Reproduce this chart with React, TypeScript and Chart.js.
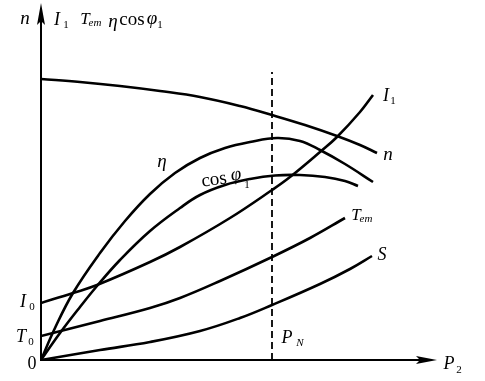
import React, { useEffect, useRef } from "react";
import { Chart, registerables } from "chart.js";

Chart.register(...registerables);

// Output power P2 (horizontal, arbitrary units) and the characteristic values (arbitrary units)
const speedN = [[0, 281], [39, 278], [79, 274], [119, 269], [159, 263], [199, 254], [231, 245], [264, 235], [296, 224], [319, 215], [336, 207]];
const currentI1 = [[0, 57], [32, 67], [56, 75], [109, 98], [139, 113], [189, 142], [231, 170], [249, 183], [279, 208], [296, 223], [319, 248], [332, 265]];
const efficiency = [[0, 0], [14, 32], [32, 67], [59, 107], [84, 139], [109, 166], [134, 187], [159, 202], [184, 212], [209, 218], [236, 222], [259, 219], [279, 210], [304, 196], [332, 178]];
const powerFactor = [[0, 0], [19, 27], [39, 53], [56, 74], [79, 100], [109, 129], [139, 152], [159, 165], [184, 175], [209, 181], [234, 184.5], [259, 185], [284, 183], [304, 179], [317, 174]];
const torqueTem = [[0, 24], [59, 39], [109, 52], [139, 62], [179, 79], [231, 103], [269, 122], [304, 142]];
const slipS = [[0, 0], [59, 10], [109, 18], [159, 29], [199, 42], [231, 55], [279, 76], [309, 91], [331, 104]];
const ratedPN = [[231, 0], [231, 288]];

const X_MAX = 396;
const Y_MAX = 357;

const FONT = '"Liberation Serif", "DejaVu Serif", serif';

type Lbl = { t: string; x: number; y: number; size: number; italic?: boolean; rot?: number };
// label positions in data units
const labels: Lbl[] = [
  { t: "n", x: -16, y: 341, size: 19, italic: true },
  { t: "I", x: 16, y: 340, size: 18, italic: true },
  { t: "1", x: 25, y: 335, size: 11 },
  { t: "T", x: 44, y: 340, size: 17, italic: true },
  { t: "em", x: 54, y: 337, size: 11, italic: true },
  { t: "η", x: 72, y: 338, size: 19, italic: true },
  { t: "cos", x: 91, y: 340, size: 19 },
  { t: "φ", x: 111, y: 341, size: 19, italic: true },
  { t: "1", x: 119, y: 335, size: 11 },
  { t: "I", x: -18, y: 58, size: 18, italic: true },
  { t: "0", x: -9, y: 53, size: 11 },
  { t: "T", x: -20, y: 23, size: 18, italic: true },
  { t: "0", x: -10, y: 18, size: 11 },
  { t: "0", x: -9, y: -4, size: 18 },
  { t: "P", x: 246, y: 22, size: 18, italic: true },
  { t: "N", x: 259, y: 17, size: 11, italic: true },
  { t: "P", x: 408, y: -4, size: 18, italic: true },
  { t: "2", x: 418, y: -10, size: 11 },
  { t: "η", x: 121, y: 198, size: 19, italic: true },
  { t: "cos", x: 173, y: 180, size: 19, rot: -0.14 },
  { t: "φ", x: 195, y: 185, size: 19, italic: true, rot: -0.14 },
  { t: "1", x: 206, y: 175, size: 11 },
  { t: "I", x: 345, y: 264, size: 18, italic: true },
  { t: "1", x: 352, y: 259, size: 11 },
  { t: "n", x: 347, y: 205, size: 19, italic: true },
  { t: "T", x: 315, y: 144, size: 17, italic: true },
  { t: "em", x: 325, y: 141, size: 11, italic: true },
  { t: "S", x: 341, y: 105, size: 18, italic: true },
];

const toPts = (arr: number[][]) => arr.map(([x, y]) => ({ x, y }));

const decorPlugin = {
  id: "decor",
  afterDatasetsDraw(chart: any) {
    const ctx = chart.ctx as CanvasRenderingContext2D;
    const xs = chart.scales.x;
    const ys = chart.scales.y;
    const ox = xs.getPixelForValue(0);
    const oy = ys.getPixelForValue(0);
    const topY = ys.getPixelForValue(Y_MAX);
    const rightX = xs.getPixelForValue(X_MAX);
    ctx.save();
    ctx.strokeStyle = "#000";
    ctx.fillStyle = "#000";
    ctx.lineWidth = 2;
    // y axis
    ctx.beginPath();
    ctx.moveTo(ox, oy + 1);
    ctx.lineTo(ox, topY + 12);
    ctx.stroke();
    ctx.beginPath();
    ctx.moveTo(ox, topY);
    ctx.lineTo(ox - 4, topY + 22);
    ctx.lineTo(ox, topY + 18);
    ctx.lineTo(ox + 4, topY + 22);
    ctx.closePath();
    ctx.fill();
    // x axis
    ctx.beginPath();
    ctx.moveTo(ox - 1, oy);
    ctx.lineTo(rightX - 12, oy);
    ctx.stroke();
    ctx.beginPath();
    ctx.moveTo(rightX, oy);
    ctx.lineTo(rightX - 21, oy - 4);
    ctx.lineTo(rightX - 17, oy);
    ctx.lineTo(rightX - 21, oy + 4);
    ctx.closePath();
    ctx.fill();
    // labels
    ctx.textAlign = "center";
    ctx.textBaseline = "middle";
    for (const l of labels) {
      ctx.save();
      ctx.font = `${l.italic ? "italic " : ""}${l.size}px ${FONT}`;
      ctx.translate(xs.getPixelForValue(l.x), ys.getPixelForValue(l.y));
      if (l.rot) ctx.rotate(l.rot);
      ctx.fillText(l.t, 0, 0);
      ctx.restore();
    }
    ctx.restore();
  },
};

export default function App() {
  const ref = useRef<HTMLCanvasElement>(null);
  useEffect(() => {
    if (!ref.current) return;
    const curve = (data: number[][]) => ({
      data: toPts(data),
      showLine: true,
      borderColor: "#000",
      borderWidth: 2.6,
      pointRadius: 0,
      fill: false,
      tension: 0.4,
    });
    const chart = new Chart(ref.current, {
      type: "scatter",
      data: {
        datasets: [
          { label: "n", ...curve(speedN) },
          { label: "I1", ...curve(currentI1) },
          { label: "η", ...curve(efficiency) },
          { label: "cosφ1", ...curve(powerFactor) },
          { label: "Tem", ...curve(torqueTem) },
          { label: "S", ...curve(slipS) },
          {
            label: "PN",
            data: toPts(ratedPN),
            showLine: true,
            borderColor: "#000",
            borderWidth: 1.8,
            borderDash: [7, 4],
            pointRadius: 0,
          },
        ],
      },
      options: {
        animation: false,
        responsive: false,
        maintainAspectRatio: false,
        layout: { padding: { left: 41, right: 48, top: 3, bottom: 21 } },
        plugins: { legend: { display: false }, tooltip: { enabled: false } },
        scales: {
          x: { type: "linear", min: 0, max: X_MAX, display: false },
          y: { type: "linear", min: 0, max: Y_MAX, display: false },
        },
      },
      plugins: [decorPlugin],
    });
    return () => chart.destroy();
  }, []);
  return (
    <div style={{ position: "fixed", left: 0, top: 0, width: 485, height: 381, background: "#fff" }}>
      <canvas ref={ref} width={485} height={381} style={{ width: 485, height: 381 }} />
    </div>
  );
}
